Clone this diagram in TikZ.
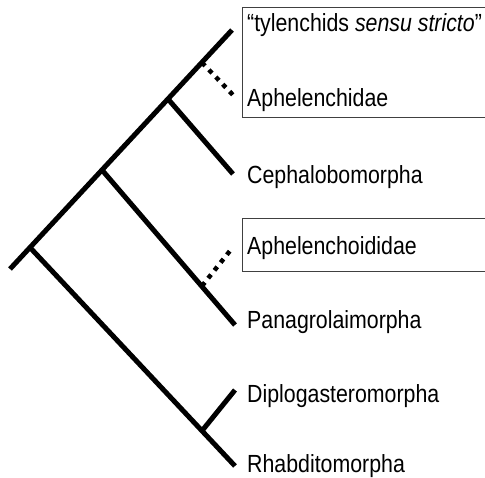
\documentclass[tikz,border=0pt]{standalone}
\usepackage{fontspec}
\setmainfont{Liberation Sans}[FakeStretch=0.86]
\begin{document}
\begin{tikzpicture}[x=1pt,y=-1pt,
  branch/.style={line width=5pt, line cap=butt},
  dotbranch/.style={line width=4.5pt, dash pattern=on 4.5pt off 5.5pt},
  taxon/.style={anchor=base west, inner sep=0pt, font=\fontsize{24.8}{29}\selectfont},
  groupbox/.style={draw=black!75, line width=1pt}]
\useasboundingbox (0,0) rectangle (485,477);
% boxes (right side runs off the picture)
\draw[groupbox] (490,7) -- (242,7) -- (242,117) -- (490,117);
\draw[groupbox] (490,218) -- (242,218) -- (242,271) -- (490,271);
% nodes and tips
\coordinate (rootend) at (10,269);
\coordinate (root) at (30,247.5);
\coordinate (nP) at (102,170);
\coordinate (nC) at (168,99);
\coordinate (nA) at (202,62.6);
\coordinate (tT) at (232,30);
\coordinate (tA) at (233,95);
\coordinate (tC) at (233,174);
\coordinate (nAo) at (202,286);
\coordinate (tAo) at (233,247);
\coordinate (tP) at (235,325);
\coordinate (nR) at (202,430.8);
\coordinate (tD) at (235,390);
\coordinate (tR) at (235,466);
% branches
\draw[branch] (rootend) -- (tT);
\draw[branch] (root) -- (tR);
\draw[branch] (nP) -- (tP);
\draw[branch] (nC) -- (tC);
\draw[branch] (nR) -- (tD);
\draw[dotbranch] (nA) -- (tA);
\draw[dotbranch] (nAo) -- (tAo);
% labels
\node[taxon] (lT) at (247,31.5) {“tylenchids \textit{sensu stricto}”};
\node[taxon] (lA) at (247,106) {Aphelenchidae};
\node[taxon] (lC) at (247,183) {Cephalobomorpha};
\node[taxon] (lAo) at (247,254) {Aphelenchoididae};
\node[taxon] (lP) at (247,328) {Panagrolaimorpha};
\node[taxon] (lD) at (247,402) {Diplogasteromorpha};
\node[taxon] (lR) at (247,472) {Rhabditomorpha};
\end{tikzpicture}
\end{document}
